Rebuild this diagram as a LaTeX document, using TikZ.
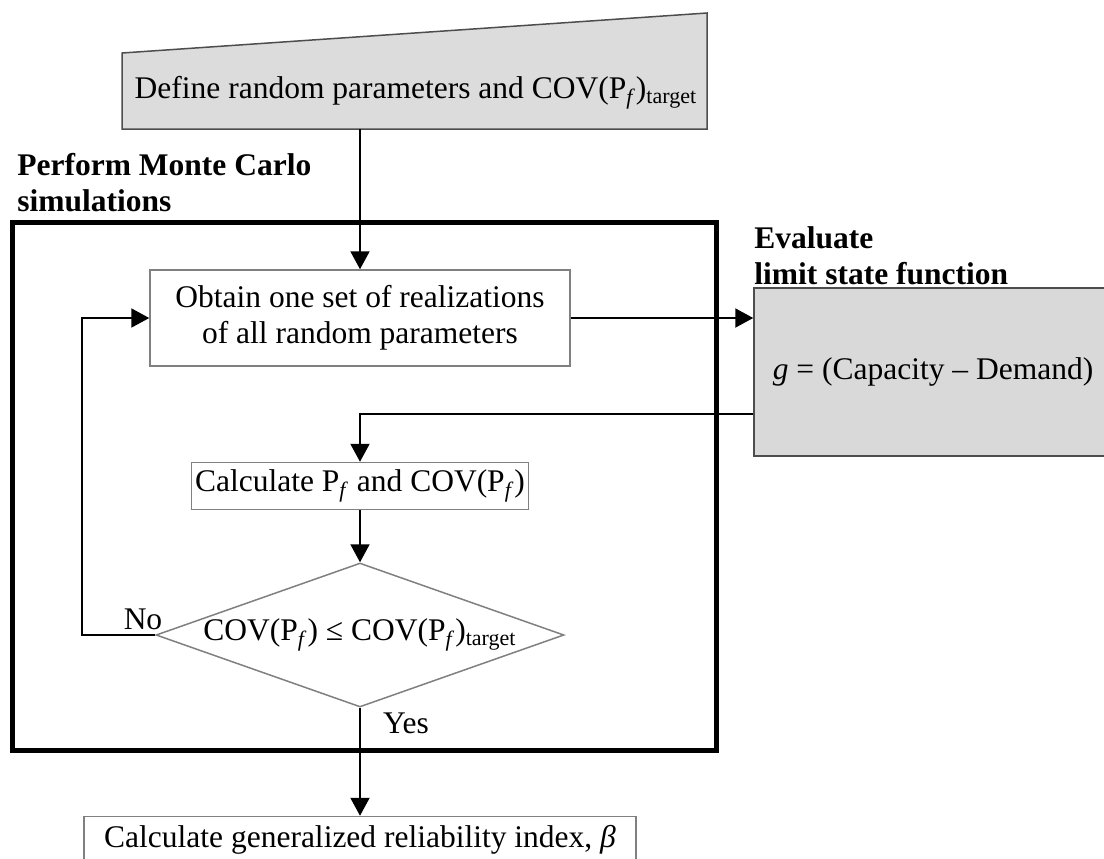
\documentclass[tikz,border=0pt]{standalone}
\usepackage{fontspec}
\setmainfont{Liberation Serif}
\usepackage{xcolor}
\usetikzlibrary{arrows.meta, shapes.geometric}

\definecolor{boxgray}{HTML}{808080}
\definecolor{inputgray}{HTML}{DCDCDC}
\definecolor{evalgray}{HTML}{D9D9D9}
\newcommand{\Pf}{P\textsubscript{\textit{f}}}
\newcommand{\flowfont}{\fontsize{15.75}{18}\selectfont}

\tikzset{
	procbox/.style={draw=boxgray, line width=0.75pt, fill=white, inner sep=0pt, align=center, font=\flowfont},
	titletext/.style={font=\flowfont\bfseries, align=left, inner sep=0pt},
	plaintext/.style={font=\flowfont, inner sep=0pt},
	arr/.style={-{Triangle[length=9pt,width=9.5pt]}, line width=1pt},
}

\begin{document}
\begin{tikzpicture}[x=0.5pt, y=-0.5pt]
			\useasboundingbox (0,0) rectangle (1104,858);
			
			% Draw the input shape (slanted top)
			\filldraw[fill=inputgray, draw=boxgray!60!black, line width=0.75pt] (122,129) -- (122,53) -- (707,13) -- (707,129) -- cycle;
			\node[plaintext] (define) at (416,93) {Define random parameters and COV(\Pf)\textsubscript{target}};
			\coordinate (defbase) at (360,129);
			
			% Draw the Monte Carlo frame
			\draw[line width=2.5pt] (12,222) rectangle (716,750);
			\node[titletext, anchor=north west] (mctitle) at (17,153) {Perform Monte Carlo\\simulations};
			
			% Draw the process boxes
			\node[procbox, minimum width=210pt, minimum height=48pt] (obtain) at (360,318) {Obtain one set of realizations\\of all random parameters};
			\node[procbox, minimum width=168.5pt, minimum height=23.5pt] (calc) at (360,486) {Calculate \Pf{} and COV(\Pf)};
			\node[procbox, diamond, aspect=2.83, minimum width=204pt, minimum height=72pt] (check) at (360,635) {COV(\Pf) ≤ COV(\Pf)\textsubscript{target}};
			\node[procbox, minimum width=276pt, minimum height=23.5pt] (final) at (360,840) {Calculate generalized reliability index, \textit{β}};
			
			% Draw the limit state box
			\node[procbox, fill=evalgray, draw=boxgray!60!black, minimum width=179pt, minimum height=84pt] (evaluate) at (933,372) {\textit{g} = (Capacity -- Demand)};
			\node[titletext, anchor=north west] (evaltitle) at (754,226) {Evaluate\\limit state function};
			
			% Draw the connectors
			\draw[arr] (defbase) -- (obtain);
			\draw[arr] (obtain.east) -- (obtain.east -| evaluate.west);
			\draw[arr] ([yshift=-21pt]evaluate.west) -| (calc.north);
			\draw[arr] (calc) -- (check);
			\draw[arr] (check.west) -- ++(-73,0) |- (obtain.west);
			\draw[arr] (check.south) -- (final.north);
			
			% Label the branches
			\node[plaintext] (nolabel) at (143,619) {No};
			\node[plaintext] (yeslabel) at (406,723) {Yes};
			
		\end{tikzpicture}
\end{document}
